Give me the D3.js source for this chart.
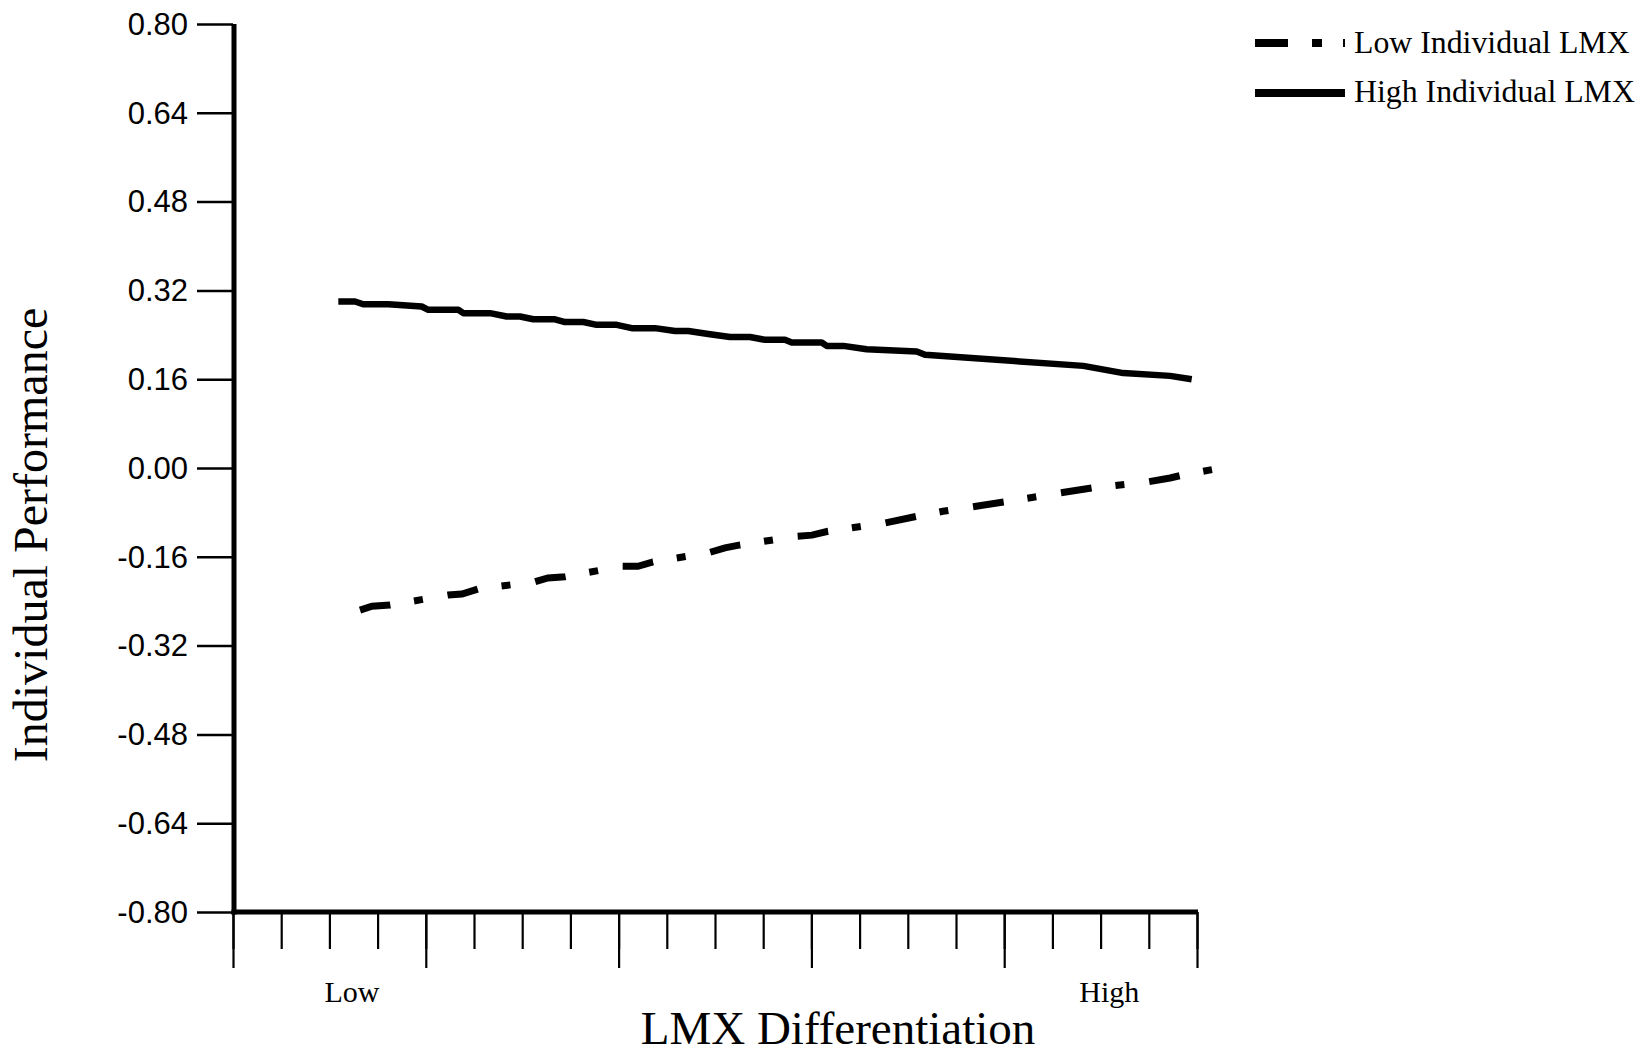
<!DOCTYPE html>
<html>
<head>
<meta charset="utf-8">
<script src="https://cdn.jsdelivr.net/npm/d3@7/dist/d3.min.js"></script>
<style>
  html, body { margin: 0; padding: 0; background: #ffffff; }
  svg { display: block; }
</style>
</head>
<body>
<svg id="chart" width="1645" height="1055"></svg>
<script>
// ---------------- data ----------------
const seriesNames = ["Low Individual LMX", "High Individual LMX"];

// y-axis ticks
const yTickValues = [0.80, 0.64, 0.48, 0.32, 0.16, 0.00, -0.16, -0.32, -0.48, -0.64, -0.80];
const yTickLabels = ["0.80", "0.64", "0.48", "0.32", "0.16", "0.00", "-0.16", "-0.32", "-0.48", "-0.64", "-0.80"];

// x-axis: 20 intervals, every 4th tick is long
const xMinorTicks = d3.range(0, 21);
const xMajorTicks = [0, 4, 8, 12, 16, 20];
const xCategories = ["Low", "High"];
const xCategoryAt = [2.47, 18.18];

// High Individual LMX (solid) – x in axis units, y = performance
const highX = [2.185, 2.531, 2.703, 3.222, 3.915, 4.052, 4.674, 4.778, 5.332, 5.678, 5.954, 6.230, 6.680, 6.888, 7.268, 7.546, 7.961, 8.272, 8.755, 9.170, 9.446, 9.896, 10.311, 10.726, 11.037, 11.452, 11.591, 12.214, 12.317, 12.662, 13.147, 14.185, 14.357, 17.641, 18.471, 19.440, 19.890];
const highY = [0.300, 0.300, 0.295, 0.295, 0.291, 0.285, 0.285, 0.279, 0.279, 0.273, 0.273, 0.268, 0.268, 0.263, 0.263, 0.258, 0.258, 0.252, 0.252, 0.247, 0.247, 0.241, 0.236, 0.236, 0.231, 0.231, 0.226, 0.226, 0.220, 0.220, 0.214, 0.210, 0.204, 0.184, 0.171, 0.166, 0.160];

// Low Individual LMX (dash-dot)
const lowX = [2.635, 2.884, 3.257, 4.461, 4.751, 5.083, 6.266, 6.535, 6.888, 8.071, 8.402, 8.714, 9.855, 10.207, 10.498, 11.701, 12.012, 12.344, 13.527, 14.191, 14.730, 15.332, 16.017, 17.158, 17.822, 18.983, 19.440, 19.689, 20.311];
const lowY = [-0.256, -0.249, -0.247, -0.229, -0.227, -0.218, -0.205, -0.198, -0.196, -0.177, -0.177, -0.169, -0.153, -0.144, -0.139, -0.123, -0.121, -0.114, -0.099, -0.087, -0.078, -0.070, -0.061, -0.045, -0.036, -0.025, -0.018, -0.013, -0.003];

// ---------------- drawing ----------------
const svg = d3.select("#chart");
const serif = "'Liberation Serif', 'Times New Roman', Times, serif";
const sans = "'Liberation Sans', Arial, Helvetica, sans-serif";

const x = d3.scaleLinear().domain([0, 20]).range([233, 1197]);
const y = d3.scaleLinear().domain([-0.8, 0.8]).range([912, 24]);

// Y axis ticks + labels
const yAxis = d3.axisLeft(y)
  .tickValues(yTickValues)
  .tickSize(36)
  .tickPadding(9)
  .tickFormat((d, i) => yTickLabels[i]);
const gy = svg.append("g").attr("transform", `translate(${x(0)},0)`).call(yAxis);
gy.select(".domain").remove();
gy.selectAll(".tick line").attr("stroke", "#000").attr("stroke-width", 2.5);
gy.selectAll(".tick text")
  .attr("font-family", sans)
  .attr("font-size", 31)
  .attr("fill", "#000")
  .attr("dy", "0.33em");

// X axis minor / major ticks
const xAxisMinor = d3.axisBottom(x).tickValues(xMinorTicks).tickSize(37).tickFormat("");
const xAxisMajor = d3.axisBottom(x).tickValues(xMajorTicks).tickSize(56).tickFormat("");
[xAxisMinor, xAxisMajor].forEach(ax => {
  const g = svg.append("g").attr("transform", `translate(0,${y(-0.8)})`).call(ax);
  g.select(".domain").remove();
  g.selectAll(".tick line").attr("stroke", "#000").attr("stroke-width", 2.2);
});

// axis lines (thick)
svg.append("line")
  .attr("x1", x(0) + 1).attr("x2", x(0) + 1)
  .attr("y1", y(0.8)).attr("y2", y(-0.8) + 2.5)
  .attr("stroke", "#000").attr("stroke-width", 5);
svg.append("line")
  .attr("x1", x(0) - 1.5).attr("x2", x(20) + 1)
  .attr("y1", y(-0.8)).attr("y2", y(-0.8))
  .attr("stroke", "#000").attr("stroke-width", 5);

// x category labels
svg.append("g").selectAll("text")
  .data(xCategories)
  .join("text")
  .attr("x", (d, i) => x(xCategoryAt[i]))
  .attr("y", 1002)
  .attr("text-anchor", "middle")
  .attr("font-family", serif)
  .attr("font-size", 30)
  .attr("fill", "#000")
  .text(d => d);

// axis titles
svg.append("text")
  .attr("x", 838).attr("y", 1044)
  .attr("text-anchor", "middle")
  .attr("font-family", serif)
  .attr("font-size", 47)
  .attr("fill", "#000")
  .text("LMX Differentiation");

svg.append("text")
  .attr("transform", "translate(47,535) rotate(-90)")
  .attr("text-anchor", "middle")
  .attr("font-family", serif)
  .attr("font-size", 48)
  .attr("fill", "#000")
  .text("Individual Performance");

// lines
const line = d3.line().x(d => x(d[0])).y(d => y(d[1]));
const highData = highX.map((v, i) => [v, highY[i]]);
const lowData = lowX.map((v, i) => [v, lowY[i]]);

svg.append("path")
  .datum(highData)
  .attr("d", line)
  .attr("fill", "none")
  .attr("stroke", "#000")
  .attr("stroke-width", 6.5)
  .attr("stroke-linejoin", "round");

svg.append("path")
  .datum(lowData)
  .attr("d", line)
  .attr("fill", "none")
  .attr("stroke", "#000")
  .attr("stroke-width", 7)
  .attr("stroke-dasharray", "31,24,9,25");

// legend
const legend = svg.append("g");
const legendRows = [
  { name: seriesNames[0], dash: "33,24,10,21", yLine: 43, yText: 53 },
  { name: seriesNames[1], dash: null, yLine: 93, yText: 102 }
];
legendRows.forEach(r => {
  legend.append("line")
    .attr("x1", 1255).attr("x2", 1345)
    .attr("y1", r.yLine).attr("y2", r.yLine)
    .attr("stroke", "#000").attr("stroke-width", 8)
    .attr("stroke-dasharray", r.dash);
  legend.append("text")
    .attr("x", 1354).attr("y", r.yText)
    .attr("font-family", serif)
    .attr("font-size", 31.8)
    .attr("fill", "#000")
    .text(r.name);
});
</script>
</body>
</html>
